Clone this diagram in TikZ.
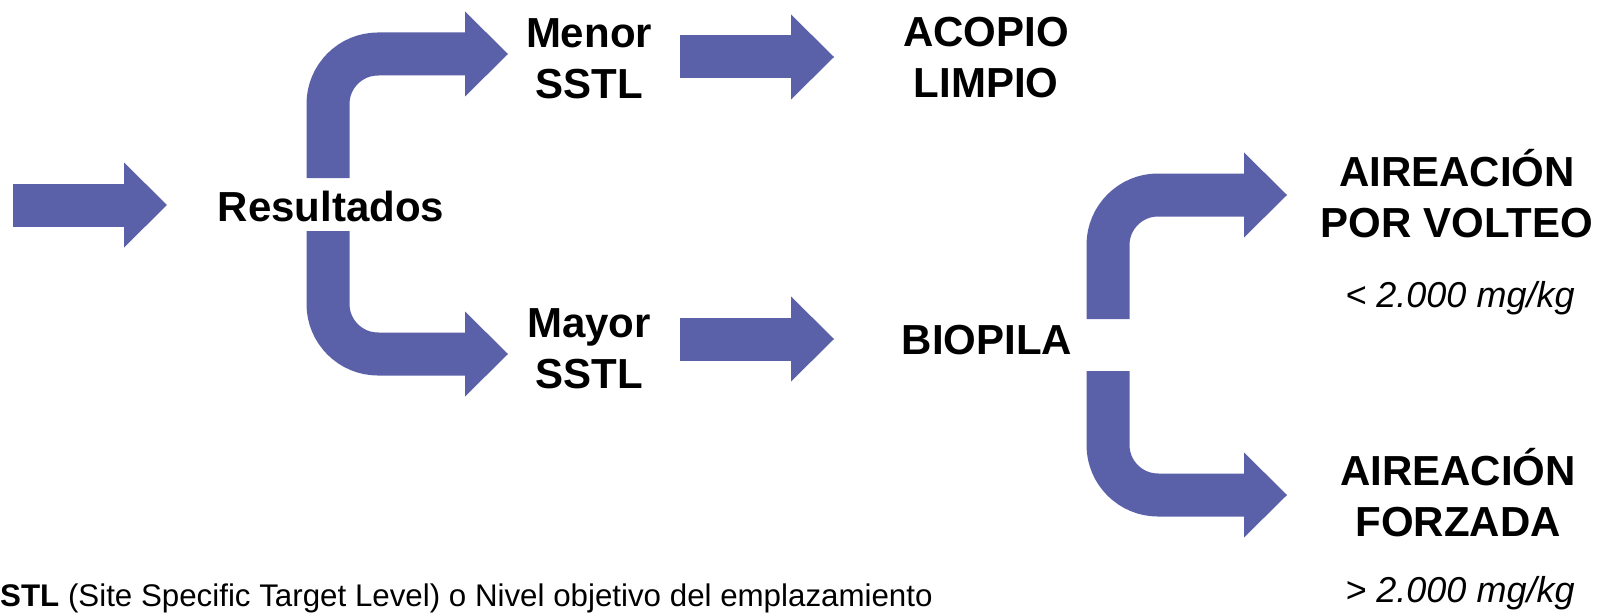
\documentclass[tikz,border=0pt]{standalone}
\usepackage{fontspec}
\setmainfont{Liberation Sans}
\usepackage{tikz}
\usetikzlibrary{arrows.meta}

\definecolor{arrowblue}{RGB}{91,97,168}

\begin{document}
\begin{tikzpicture}[%
  x=1pt, y=-1pt,
  bigarrow/.style={draw=arrowblue, line width=43pt,
    -{Triangle[length=43pt,width=85pt,line width=0pt]}},
  elbow/.style={rounded corners=50pt},
  stage/.style={font=\bfseries\fontsize{42}{51}\selectfont, align=center},
  limit/.style={font=\itshape\fontsize{36}{43}\selectfont, anchor=base}]

  \useasboundingbox (0,0) rectangle (1598,615);

  % texts
  \node[stage, anchor=base] (res) at (331,221) {Resultados};
  \node[stage] (menor) at (589,58.5) {Menor\\SSTL};
  \node[stage] (mayor) at (589,349) {Mayor\\SSTL};
  \node[stage] (acopio) at (986,58) {ACOPIO\\LIMPIO};
  \node[stage, anchor=base] (biopila) at (987,354) {BIOPILA};
  \node[stage] (volteo) at (1457,194) {AIREACIÓN\\POR VOLTEO};
  \node[stage] (forzada) at (1458,493) {AIREACIÓN\\FORZADA};
  \node[limit] (menos) at (1460,307) {< 2.000 mg/kg};
  \node[limit] (mas) at (1460,602) {> 2.000 mg/kg};
  \node[anchor=base west, inner sep=0pt, font=\fontsize{31.3}{37}\selectfont]
    (nota) at (0,606) {\textbf{STL} (Site Specific Target Level) o Nivel objetivo del emplazamiento};

  % arrow ends
  \coordinate (start) at (13,205);
  \coordinate (resin) at (167,205);
  \coordinate (resup) at (328,178);
  \coordinate (resdown) at (328,231);
  \coordinate (menorin) at (508,54);
  \coordinate (mayorin) at (508,354);
  \coordinate (menorout) at (680,57);
  \coordinate (acopioin) at (834,57);
  \coordinate (mayorout) at (680,339);
  \coordinate (biopilain) at (834,339);
  \coordinate (bioup) at (1108,319);
  \coordinate (biodown) at (1108,371);
  \coordinate (volteoin) at (1287,195);
  \coordinate (forzadain) at (1287,495);

  \draw[bigarrow] (start) -- (resin);
  \draw[bigarrow, elbow] (resup) |- (menorin);
  \draw[bigarrow, elbow] (resdown) |- (mayorin);
  \draw[bigarrow] (menorout) -- (acopioin);
  \draw[bigarrow] (mayorout) -- (biopilain);
  \draw[bigarrow, elbow] (bioup) |- (volteoin);
  \draw[bigarrow, elbow] (biodown) |- (forzadain);
\end{tikzpicture}
\end{document}
